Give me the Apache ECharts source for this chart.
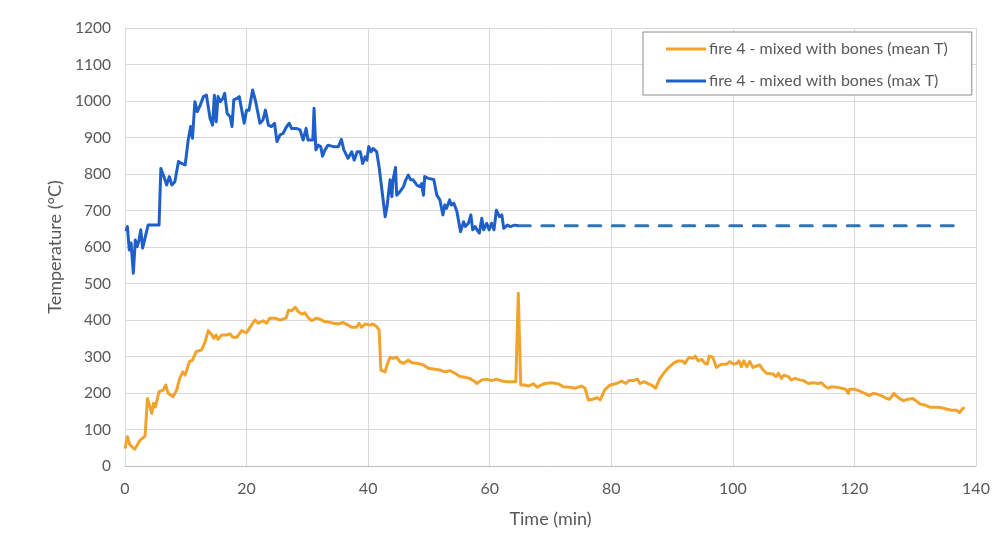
<!DOCTYPE html>
<html>
<head>
<meta charset="utf-8">
<script src="https://cdn.jsdelivr.net/npm/echarts@6/dist/echarts.min.js"></script>
<style>html,body{margin:0;padding:0;background:#fff}#c{width:998px;height:536px}</style>
</head>
<body>
<div id="c"></div>
<script>
// Tick labels
const xTicks = [0, 20, 40, 60, 80, 100, 120, 140];
const yTicks = [0, 100, 200, 300, 400, 500, 600, 700, 800, 900, 1000, 1100, 1200];

const meanName = 'fire 4 - mixed with bones (mean T)';
const maxName = 'fire 4 - mixed with bones (max T)';

// mean T: [time (min), temperature (°C)]
const meanT = [[0,48],[0.4,80],[0.8,58],[1.6,46],[2.5,71],[3.3,82],[3.7,185],[4.4,144],[4.7,172],[5.0,162],[5.6,204],[6.3,208],[6.7,222],[7.1,199],[7.9,190],[8.5,208],[9.0,240],[9.5,258],[9.9,249],[10.6,286],[11.1,290],[11.7,313],[12.6,318],[13.2,341],[13.7,371],[14.3,359],[14.6,350],[15.0,359],[15.3,347],[15.9,359],[16.7,359],[17.3,362],[17.7,353],[18.4,353],[19.2,371],[20.0,365],[20.8,386],[21.4,400],[21.9,391],[22.7,398],[23.3,391],[23.8,405],[24.7,405],[25.5,400],[26.5,405],[26.9,427],[27.4,425],[28.0,435],[28.5,423],[29.1,416],[29.6,420],[30.1,407],[30.7,398],[31.5,405],
[32.1,402],[32.9,395],[33.4,395],[34.3,391],[35.1,389],[35.9,393],[36.7,386],[37.3,380],[38.1,380],[38.5,391],[38.9,380],[39.5,389],[40.3,386],[40.8,389],[41.4,382],[41.8,373],[42.1,263],[42.4,268],[42.8,258],[43.1,277],[43.6,298],[44.1,295],[44.7,298],[45.2,286],[45.8,281],[46.6,290],[47.2,283],[48.2,281],[49.1,277],[49.9,268],[51.0,265],[51.8,263],[52.6,258],[53.5,261],[54.3,254],[55.1,245],[55.9,243],[56.7,240],[57.4,233],[57.9,226],[58.7,236],[59.5,238],[60.3,234],[61.1,238],[62.0,233],[62.8,231],[63.6,231],[64.3,231],[64.7,473],[65.1,222],[65.8,222],[66.3,219],[67.2,225],[67.8,216],[68.5,222],
[69.1,226],[70.2,228],[71.3,225],[72.1,217],[73.2,216],[74.0,213],[75.1,219],[75.7,213],[76.2,181],[77.0,183],[77.7,187],[78.2,181],[78.9,208],[79.8,222],[80.9,226],[81.7,233],[82.4,226],[82.9,234],[83.6,234],[84.3,238],[84.7,226],[85.4,231],[86.1,225],[86.6,222],[87.3,213],[88.0,240],[88.8,258],[89.4,269],[90.2,281],[91.0,288],[91.7,288],[92.1,281],[92.8,298],[93.4,295],[93.8,301],[94.3,288],[94.9,292],[95.4,281],[95.8,279],[96.1,301],[96.7,298],[97.3,270],[98.1,279],[99.0,279],[99.5,286],[100.1,279],[100.6,281],[101.0,288],[101.4,272],[101.8,288],[102.3,272],[102.8,286],[103.3,270],[103.9,274],[104.4,277],
[105.0,263],[105.5,254],[106.6,252],[107.1,245],[107.5,254],[108.0,240],[108.4,249],[109.1,245],[109.6,236],[110.2,240],[111.0,236],[111.6,234],[112.4,226],[113.2,228],[114.0,226],[114.6,228],[115.1,219],[115.7,213],[116.2,217],[117.1,216],[117.9,213],[118.6,210],[119.0,199],[119.2,210],[120.1,210],[120.9,205],[121.4,201],[122.0,197],[122.4,193],[123.1,199],[123.7,197],[124.5,192],[125.3,185],[125.8,183],[126.5,199],[127.0,190],[127.5,184],[128.1,179],[128.8,183],[129.6,185],[130.1,179],[130.8,170],[131.6,167],[132.4,161],[133.5,161],[134.3,160],[135.1,156],[136.0,153],[136.8,153],[137.3,146],[137.6,153],[138.1,161]];

// max T: [time (min), temperature (°C)]
const maxT = [[0.16,643],[0.4,656],[0.7,592],[1.0,611],[1.37,528],[1.7,619],[2.0,601],[2.3,619],[2.6,647],[2.9,597],[3.8,660],[5.6,660],[5.9,815],[6.5,788],[6.85,770],[7.3,793],[7.7,770],[8.2,779],[8.8,834],[9.3,829],[9.9,825],[10.4,893],[10.8,930],[11.1,898],[11.5,998],[11.9,971],[12.3,985],[12.9,1012],[13.4,1016],[14.0,952],[14.4,934],[14.7,1016],[15.0,943],[15.3,1012],[15.7,998],[16.1,1007],[16.4,1021],[16.8,966],[17.3,957],[17.6,930],[17.9,1003],[18.4,1007],[18.8,1012],[19.1,985],[19.6,939],[20.0,975],[20.4,975],[21.0,1030],[21.5,998],[22.2,939],[22.7,948],[23.1,975],[23.6,934],[24.1,930],[24.6,939],[25.0,889],[25.5,907],[26.0,911],[26.6,930],[27.0,939],[27.4,925],[28.2,925],
[28.8,921],[29.3,893],[29.8,925],[30.1,893],[30.9,893],[31.1,980],[31.4,866],[31.8,879],[32.2,875],[32.5,849],[32.9,866],[33.4,879],[34.3,875],[35.1,875],[35.6,895],[36.0,866],[36.7,843],[37.3,861],[37.7,838],[38.2,861],[38.7,861],[39.1,829],[39.5,847],[39.8,838],[40.1,875],[40.5,861],[40.8,870],[41.4,861],[41.8,820],[42.2,765],[42.8,683],[43.1,710],[43.6,784],[43.9,738],[44.1,784],[44.5,818],[44.7,742],[45.2,751],[45.8,765],[46.2,784],[46.6,797],[47.0,784],[47.4,784],[48.0,770],[48.5,765],[48.8,774],[49.1,742],[49.3,793],[49.9,788],[50.8,785],[51.3,742],[51.8,729],[52.3,688],[52.6,715],[52.9,706],[53.4,729],[53.7,715],[54.1,720],[54.6,697],[54.8,701],[55.2,642],[55.7,669],[56.0,656],[56.5,665],[56.9,688],[57.2,647],[57.6,656],[57.9,647],[58.3,638],[58.7,679],[59.0,647],[59.5,665],[59.9,647],[60.3,665],[60.7,647],[61.1,701],[61.6,683],[62.0,688],[62.3,651],[62.9,660],[63.4,656],[64.1,660],[64.7,658]];

// max T extrapolated (dashed)
const maxTExtra = [[64.7,658],[136.8,658]];

const FONT = 'Lato, "Open Sans", sans-serif';
const chart = echarts.init(document.getElementById('c'), null, {renderer: 'canvas'});
chart.setOption({
  animation: false,
  backgroundColor: '#fff',
  textStyle: {fontFamily: FONT},
  grid: {left: 125, right: 22, top: 28, bottom: 70, containLabel: false},
  legend: {
    orient: 'vertical',
    left: 643, top: 32,
    padding: [7, 24, 4, 23],
    itemWidth: 40, itemHeight: 3, itemGap: 12,
    borderColor: '#8c8c8c', borderWidth: 1,
    backgroundColor: '#fff',
    textStyle: {color: '#595959', fontSize: 16, fontFamily: FONT, padding: [0,0,0,-2], lineHeight: 20},
    data: [{name: meanName, icon: 'rect'}, {name: maxName, icon: 'rect'}]
  },
  xAxis: {
    type: 'value', min: xTicks[0], max: xTicks[xTicks.length-1], interval: 20,
    name: 'Time (min)', nameLocation: 'middle', nameGap: 44,
    nameTextStyle: {color: '#595959', fontSize: 18, fontFamily: FONT},
    axisLine: {show: true, lineStyle: {color: '#bfbfbf', width: 1}},
    axisTick: {show: false},
    axisLabel: {color: '#595959', fontSize: 16, margin: 15, fontFamily: FONT},
    splitLine: {show: true, lineStyle: {color: '#d9d9d9', width: 1}}
  },
  yAxis: {
    type: 'value', min: yTicks[0], max: yTicks[yTicks.length-1], interval: 100,
    name: 'Temperature (°C)', nameLocation: 'middle', nameGap: 56,
    nameTextStyle: {color: '#595959', fontSize: 18, fontFamily: FONT},
    axisLine: {show: true, lineStyle: {color: '#d9d9d9', width: 1}},
    axisTick: {show: false},
    axisLabel: {color: '#595959', fontSize: 15.5, margin: 14, fontFamily: FONT, formatter: v => String(v)},
    splitLine: {show: true, lineStyle: {color: '#d9d9d9', width: 1}}
  },
  series: [
    {name: meanName, type: 'line', data: meanT, showSymbol: false, symbol: 'none',
     lineStyle: {color: '#f2a32c', width: 3, join: 'round'}, itemStyle: {color: '#f2a32c'}, z: 3},
    {name: maxName, type: 'line', data: maxT, showSymbol: false, symbol: 'none',
     lineStyle: {color: '#1f60c8', width: 3, join: 'round'}, itemStyle: {color: '#1f60c8'}, z: 3},
    {name: 'max T extrapolated', type: 'line', data: maxTExtra, showSymbol: false, symbol: 'none',
     lineStyle: {color: '#2e75b6', width: 3, type: [12, 11.5], cap: 'round'}, z: 2}
  ]
});
</script>
</body>
</html>
